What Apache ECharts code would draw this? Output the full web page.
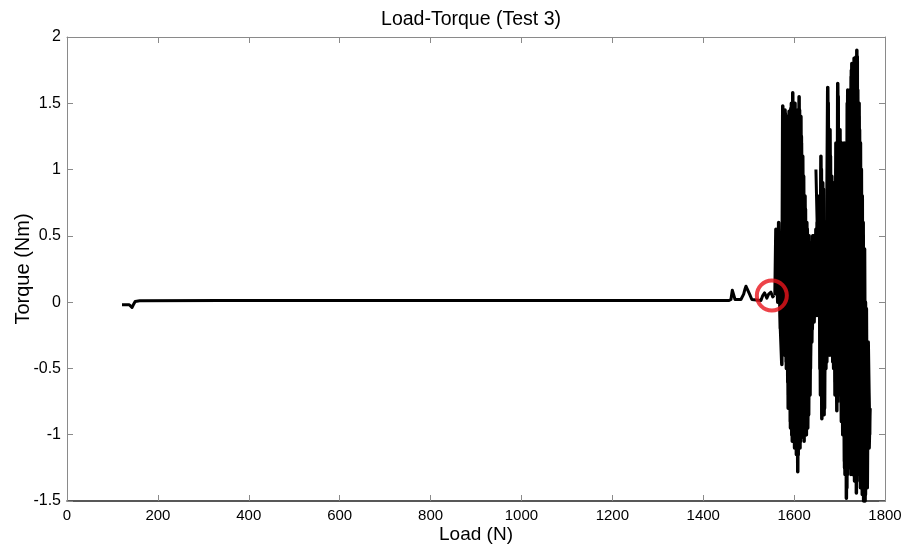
<!DOCTYPE html>
<html>
<head>
<meta charset="utf-8">
<script src="https://cdn.jsdelivr.net/npm/echarts@6/dist/echarts.min.js"></script>
<style>html,body{margin:0;padding:0;background:#fff}#c{width:906px;height:550px}</style>
</head>
<body>
<div id="c"></div>
<script>
var titleText = 'Load-Torque (Test 3)';
var xName = 'Load (N)';
var yName = 'Torque (Nm)';

// flat part of the trace
var flatLoad   = [121, 137, 141, 143, 146, 150, 160, 340, 520, 1000, 1456, 1461, 1464, 1467, 1470, 1483, 1489, 1492, 1494, 1498, 1502, 1507, 1527, 1531, 1535, 1540, 1544, 1549, 1553, 1556];
var flatTorque = [-0.02, -0.02, -0.035, -0.04, -0.02, 0.005, 0.01, 0.012, 0.012, 0.012, 0.012, 0.02, 0.09, 0.1, 0.02, 0.02, 0.06, 0.1, 0.12, 0.11, 0.06, 0.02, 0.012, 0.05, 0.07, 0.03, 0.06, 0.075, 0.04, 0.05];

// oscillating part of the trace, forward pass
var bandLoad = [1558, 1560, 1564, 1566, 1569, 1573, 1575, 1577, 1580, 1582, 1584, 1586, 1589, 1591, 1593, 1595, 1597, 1600, 1602, 1604, 1606, 1608, 1611, 1613, 1615, 1617, 1619, 1622, 1624, 1626, 1628, 1630, 1633, 1635, 1637, 1639, 1641, 1644, 1648, 1650, 1655, 1657, 1659, 1661, 1663, 1666, 1668, 1670, 1674, 1677, 1679, 1681, 1683, 1685, 1688, 1690, 1692, 1694, 1696, 1699, 1701, 1703, 1705, 1707, 1710, 1712, 1714, 1715, 1718, 1721, 1723, 1725, 1727, 1729, 1732, 1734, 1736, 1737, 1738, 1741, 1743, 1745, 1747, 1749, 1752, 1753, 1754, 1756, 1758, 1760, 1762, 1765, 1767];
var bandTorque = [0.05, 0.55, 0.0, 0.6, -0.1, -0.47, 1.48, -0.3, 1.45, -0.35, 1.40, -0.6, 1.44, -0.8, 1.46, -1.0, 1.58, -1.05, 1.50, -1.07, 1.2, -1.28, 1.55, -1.1, 1.4, -1.0, 1.1, -1.05, 0.8, -1.0, 0.6, -0.95, 0.5, -0.7, 0.3, -0.3, 0.5, -0.15, 0.55, -0.1, 0.8, -0.5, 1.10, -0.88, 0.9, -0.85, 0.6, -0.5, 1.62, -0.4, 1.3, -0.35, 0.95, -0.45, 0.9, -0.7, 1.2, -0.82, 1.65, -0.6, 1.3, -0.75, 1.2, -1.0, 1.2, -1.3, 1.2, -1.48, 1.6, -1.1, 1.6, -1.3, 1.8, -1.2, 1.84, -1.3, 1.85, -1.44, 1.9, -1.2, 1.5, -1.35, 1.0, -1.4, 0.6, -1.5, 0.2, -1.5, -0.1, -1.3, -0.4, -1.1, -0.8];

// oscillating part, return pass
var returnLoad = [1766, 1763, 1761, 1759, 1757, 1755, 1751, 1750, 1748, 1746, 1744, 1742, 1740, 1739, 1735, 1733, 1731, 1730, 1728, 1726, 1724, 1722, 1719, 1717, 1716, 1713, 1711, 1709, 1706, 1704, 1702, 1700, 1698, 1697, 1695, 1693, 1691, 1689, 1687, 1684, 1682, 1680, 1678, 1675, 1672, 1669, 1667, 1665, 1662, 1660, 1658, 1656, 1653, 1651, 1646, 1643, 1640, 1638, 1636, 1634, 1632, 1629, 1627, 1625, 1623, 1621, 1618, 1616, 1614, 1612, 1609, 1607, 1605, 1603, 1601, 1599, 1596, 1594, 1592, 1590, 1588, 1585, 1583, 1581, 1578, 1576, 1574, 1572, 1570];
var returnTorque = [-1.0, -0.3, -1.4, -0.05, -1.45, 0.4, -1.45, 0.8, -1.3, 1.2, -1.3, 1.4, -1.25, 1.85, -1.35, 1.8, -1.25, 1.7, -1.2, 1.7, -1.25, 1.55, -1.2, 1.5, -1.4, 1.15, -1.2, 1.15, -0.9, 1.1, -0.7, 1.2, -0.7, 1.55, -0.75, 1.0, -0.6, 0.9, -0.5, 0.9, -0.4, 1.1, -0.38, 1.5, -0.45, 0.6, -0.8, 0.85, -0.85, 1.0, -0.7, 0.7, -0.1, 0.6, -0.1, 0.5, -0.2, 0.4, -0.5, 0.45, -0.85, 0.55, -1.0, 0.7, -1.0, 0.95, -1.02, 1.25, -1.05, 1.45, -1.15, 1.35, -1.1, 1.4, -1.05, 1.5, -1.0, 1.45, -0.9, 1.42, -0.7, 1.38, -0.45, 1.42, -0.35, 1.4, -0.3, 0.4, -0.2];

// third pass over the right-hand cluster
var rightLoad   = [1700, 1704, 1708, 1711, 1713, 1717, 1720, 1722, 1726, 1728, 1731, 1733, 1735, 1738, 1740, 1742, 1744, 1746, 1748, 1750, 1752, 1755, 1757, 1760, 1763];
var rightTorque = [1.1, -0.9, 1.15, -1.25, 1.15, -1.3, 1.55, -1.25, 1.75, -1.3, 1.8, -1.35, 1.8, -1.3, 1.6, -1.3, 1.3, -1.4, 1.0, -1.45, 0.5, -1.5, 0.0, -1.35, -0.5];

// third pass over the left-hand cluster
var leftLoad   = [1576, 1579, 1581, 1583, 1585, 1587, 1590, 1592, 1594, 1596, 1598, 1601, 1603, 1605, 1607, 1610, 1612, 1614, 1616, 1618, 1620];
var leftTorque = [1.3, -0.4, 1.35, -0.5, 1.3, -0.8, 1.4, -0.95, 1.5, -1.05, 1.45, -1.1, 1.3, -1.15, 1.45, -1.1, 1.35, -1.0, 1.2, -0.98, 0.9];

// crossing "knee" strokes inside the band
var knee1Load   = [1622, 1633, 1644, 1655, 1663, 1670, 1677, 1681, 1690, 1696];
var knee1Torque = [0.18, 0.3, 0.42, 0.52, 0.56, 0.5, 0.2, 0.03, 0.0, -0.1];
var knee2Load   = [1648, 1652, 1657, 1666, 1674, 1679];
var knee2Torque = [1.0, 0.4, 0.05, 0.0, -0.02, -0.4];

// highlighted point (red circle)
var markLoad = [1551];
var markTorque = [0.05];

function pairs(xs, ys) { return xs.map(function (x, i) { return [x, ys[i]]; }); }

var font = "'Liberation Sans', Arial, Helvetica, sans-serif";
var axisGrey = '#8a8a8a';

function lineSeries(xs, ys, w) {
  return {
    type: 'line', data: pairs(xs, ys), showSymbol: false, symbol: 'none',
    lineStyle: { color: '#000', width: w, join: 'round' }, animation: false, z: 3
  };
}

function plain(v) { return String(v); }

var chart = echarts.init(document.getElementById('c'), null, { renderer: 'canvas' });
chart.setOption({
  animation: false,
  backgroundColor: '#fff',
  title: {
    text: titleText, left: 466, top: 5, textAlign: 'center',
    textStyle: { fontFamily: font, fontSize: 19.5, fontWeight: 'normal', color: '#000' }
  },
  grid: { left: 67, right: 21, top: 37, bottom: 49, outerBoundsMode: 'none', containLabel: false },
  xAxis: [
    {
      type: 'value', min: 0, max: 1800, interval: 200, position: 'bottom',
      name: xName, nameLocation: 'middle', nameGap: 24, nameMoveOverlap: false,
      nameTextStyle: { fontFamily: font, fontSize: 19, color: '#000' },
      axisLine: { show: true, onZero: false, lineStyle: { color: '#222', width: 1.5 } },
      axisTick: { show: true, inside: true, length: 6, lineStyle: { color: axisGrey } },
      axisLabel: { fontFamily: font, fontSize: 15, color: '#000', margin: 7, formatter: plain },
      splitLine: { show: false }
    },
    {
      type: 'value', min: 0, max: 1800, interval: 200, position: 'top',
      axisLine: { show: true, onZero: false, lineStyle: { color: axisGrey } },
      axisTick: { show: true, inside: true, length: 6, lineStyle: { color: axisGrey } },
      axisLabel: { show: false }, splitLine: { show: false }
    }
  ],
  yAxis: [
    {
      type: 'value', min: -1.5, max: 2, interval: 0.5, position: 'left',
      name: yName, nameLocation: 'middle', nameGap: 34, nameMoveOverlap: false,
      nameTextStyle: { fontFamily: font, fontSize: 20, color: '#000' },
      axisLine: { show: true, onZero: false, lineStyle: { color: axisGrey } },
      axisTick: { show: true, inside: true, length: 6, lineStyle: { color: axisGrey } },
      axisLabel: { fontFamily: font, fontSize: 16, color: '#000', margin: 6, formatter: plain },
      splitLine: { show: false }
    },
    {
      type: 'value', min: -1.5, max: 2, interval: 0.5, position: 'right',
      axisLine: { show: true, onZero: false, lineStyle: { color: axisGrey } },
      axisTick: { show: true, inside: true, length: 6, lineStyle: { color: axisGrey } },
      axisLabel: { show: false }, splitLine: { show: false }
    }
  ],
  series: [
    lineSeries(flatLoad, flatTorque, 3),
    lineSeries(bandLoad, bandTorque, 3.5),
    lineSeries(returnLoad, returnTorque, 3.5),
    lineSeries(rightLoad, rightTorque, 3.5),
    lineSeries(leftLoad, leftTorque, 3.5),
    lineSeries(knee1Load, knee1Torque, 3),
    lineSeries(knee2Load, knee2Torque, 3),
    {
      type: 'scatter', data: pairs(markLoad, markTorque), symbol: 'circle', symbolSize: 30,
      itemStyle: { color: 'rgba(0,0,0,0)', borderColor: '#e8141b', borderWidth: 4 },
      z: 5, animation: false
    }
  ]
});
</script>
</body>
</html>
